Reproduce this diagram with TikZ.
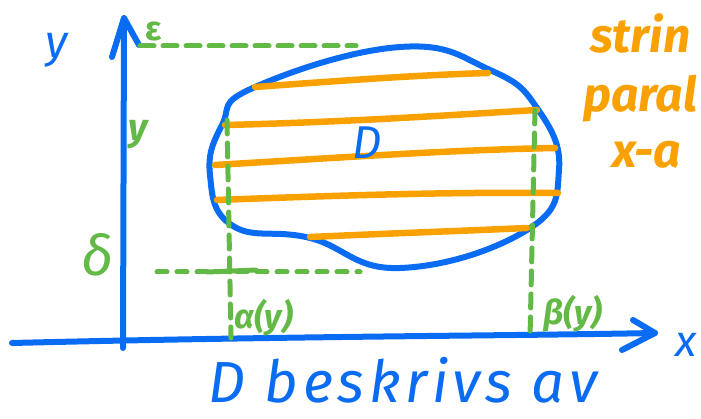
\documentclass[tikz,border=0pt]{standalone}
\usepackage{fontspec}
\setmainfont{Fira Sans}
\definecolor{penblue}{HTML}{0A6CF2}
\definecolor{penorange}{HTML}{F9A100}
\definecolor{pengreen}{HTML}{62B946}
\tikzset{
  blueline/.style={draw=penblue, line width=6pt, line cap=round, line join=round},
  orangeline/.style={draw=penorange, line width=6.5pt, line cap=round},
  greendash/.style={draw=pengreen, line width=5pt, line cap=round, dash pattern=on 14pt off 9pt},
  greenline/.style={draw=pengreen, line width=5pt, line cap=round},
  lbl/.style={inner sep=0pt, font=\itshape},
}
\begin{document}
\begin{tikzpicture}[x=1pt,y=-1pt]
\useasboundingbox (0,0) rectangle (701,419);
% axes
\coordinate (yb) at (123,348);
\coordinate (yt) at (124,18);
\coordinate (xl) at (12,343);
\coordinate (xr) at (655,333);
\draw[blueline] (yb) -- (yt);
\draw[blueline] (112,57) -- (yt) -- (139,45);
\draw[blueline] (xl) .. controls (300,336) and (500,336) .. (xr);
\draw[blueline] (633,320) -- (xr) -- (622,350);
% region D
\draw[blueline] plot[smooth cycle, tension=0.75] coordinates {
 (400,47) (490,70) (537,108) (559,170) (527,230) (400,268) (310,238) (233,226) (210,175) (222,125) (255,87)};
% orange strings
\draw[orangeline] (255,87) .. controls (350,80) and (420,75) .. (488,73);
\draw[orangeline] (225,125) .. controls (350,122) and (450,115) .. (537,110);
\draw[orangeline] (215,165) .. controls (350,157) and (450,150) .. (555,148);
\draw[orangeline] (217,200) .. controls (350,195) and (450,192) .. (558,193);
\draw[orangeline] (310,237) .. controls (400,233) and (460,231) .. (527,228);
% green dashed guides
\draw[greendash] (140,46) -- (356,46);
\draw[greendash] (227,120) -- (231,338);
\draw[greendash] (535,110) -- (530,338);
\draw[greendash, dash pattern=on 10pt off 10pt] (157,272) -- (360,272);
\draw[greenline] (207,272) -- (256,270);
% labels
\node[lbl, text=penblue, font=\fontsize{46}{46}\selectfont\itshape] (ylab) at (57,50) {y};
\node[lbl, text=penblue, font=\fontsize{44}{44}\selectfont\itshape] (xlab) at (686,345) {x};
\node[lbl, text=penblue, font=\fontsize{46}{46}\selectfont\itshape] (Dlab) at (367,143) {D};
\node[lbl, text=pengreen, font=\fontsize{34}{34}\selectfont\bfseries] (eps) at (154,31) {ε};
\node[lbl, text=pengreen, font=\fontsize{38}{38}\selectfont\itshape\bfseries] (ylev) at (138,135) {y};
\node[lbl, text=pengreen, font=\fontsize{56}{56}\selectfont\itshape] (del) at (98,255) {δ};
\node[lbl, text=pengreen, font=\fontsize{34}{34}\selectfont\itshape\bfseries, anchor=south west] (alph) at (234,336) {α(y)};
\node[lbl, text=pengreen, font=\fontsize{34}{34}\selectfont\itshape\bfseries, anchor=south west] (bet) at (543,332) {β(y)};
\node[lbl, text=penorange, font=\fontsize{48}{48}\selectfont\itshape\bfseries, anchor=base west] (s1) at (590,53) {strin};
\node[lbl, text=penorange, font=\fontsize{48}{48}\selectfont\itshape\bfseries, anchor=base west] (s2) at (583,112) {paral};
\node[lbl, text=penorange, font=\fontsize{48}{48}\selectfont\itshape\bfseries, anchor=base west] (s3) at (612,168) {x-a};
\node[lbl, text=penblue, font=\fontsize{58}{58}\selectfont\itshape\addfontfeatures{LetterSpace=8}, anchor=base west] (bot) at (208,402) {D beskrivs av};
\end{tikzpicture}
\end{document}
